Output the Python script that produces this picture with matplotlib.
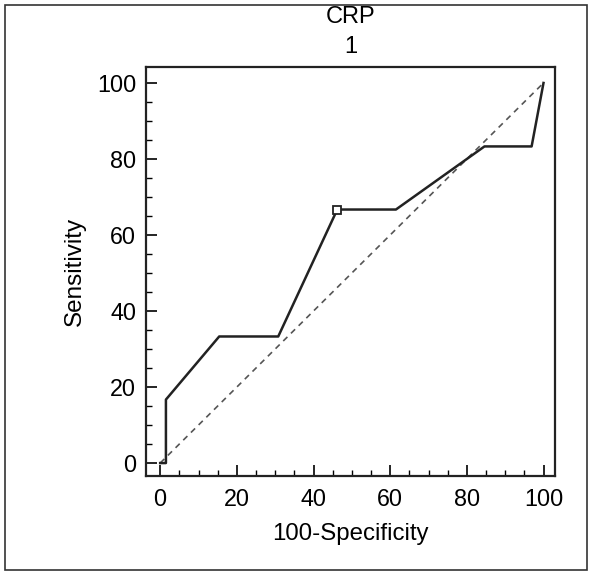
import matplotlib.pyplot as plt
from matplotlib.patches import Rectangle

plt.rcParams['font.family'] = ['Liberation Sans', 'DejaVu Sans']

# ROC curve points (100-Specificity, Sensitivity)
fpr = [0, 1.5, 1.5, 15.4, 30.8, 46.2, 61.5, 84.6, 96.9, 100]
tpr = [0, 0, 16.7, 33.3, 33.3, 66.7, 66.7, 83.3, 83.3, 100]
# criterion point
cut_x = [46.2]
cut_y = [66.7]
ticks = [0, 20, 40, 60, 80, 100]

fig = plt.figure(figsize=(5.92, 5.75), dpi=100)
ax = fig.add_axes([0.2466, 0.1722, 0.6909, 0.7113])

ax.plot([0, 100], [0, 100], color='#555555', ls=(0, (3.5, 3)), lw=1.2)
ax.plot(fpr, tpr, color='#222222', lw=1.8)
ax.plot(cut_x, cut_y, marker='s', ms=6, mfc='white', mec='#222222', mew=1.3, ls='none')

ax.set_xlim(-3.7, 103)
ax.set_ylim(-3.4, 104.2)
ax.set_xticks(ticks)
ax.set_yticks(ticks)
ax.set_xticks(range(0, 101, 5), minor=True)
ax.set_yticks(range(0, 101, 5), minor=True)
ax.tick_params(which='major', direction='in', length=8, width=1.2, labelsize=16.8)
ax.tick_params(axis='x', which='major', pad=9)
ax.tick_params(axis='y', which='major', pad=7)
ax.tick_params(which='minor', direction='in', length=4, width=1.0)
for s in ax.spines.values():
    s.set_linewidth(1.6)
    s.set_color('#222222')

ax.set_xlabel('100-Specificity', fontsize=17.3, labelpad=8)
ax.set_ylabel('Sensitivity', fontsize=17.5, labelpad=8)
fig.text(0.593, 0.99, 'CRP', ha='center', va='top', fontsize=17)
fig.text(0.593, 0.937, '1', ha='center', va='top', fontsize=17)

fig.patches.append(Rectangle((0.008, 0.008), 0.984, 0.984, transform=fig.transFigure,
                             fill=False, edgecolor='#333333', lw=1.2))

fig.savefig('out.png', dpi=100)
